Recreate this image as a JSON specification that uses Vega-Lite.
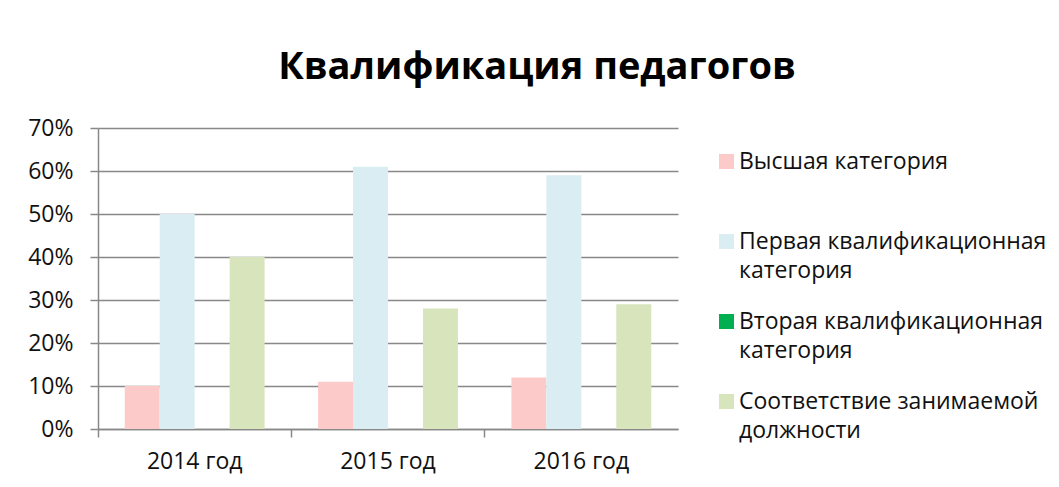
{
  "$schema": "https://vega.github.io/schema/vega-lite/v6.json",
  "width": 580,
  "height": 301,
  "autosize": {"type": "none"},
  "padding": {"left": 98, "top": 128, "right": 381, "bottom": 58},
  "background": "white",
  "title": {
    "text": "Квалификация педагогов",
    "font": "Open Sans",
    "fontSize": 38,
    "fontWeight": "bold",
    "color": "#000000",
    "anchor": "middle",
    "dx": 149,
    "offset": 30
  },
  "data": {
    "values": [
      {"year": "2014 год", "cat": "Высшая категория", "value": 0.10},
      {"year": "2014 год", "cat": "Первая квалификационная категория", "value": 0.50},
      {"year": "2014 год", "cat": "Вторая квалификационная категория", "value": 0},
      {"year": "2014 год", "cat": "Соответствие занимаемой должности", "value": 0.40},
      {"year": "2015 год", "cat": "Высшая категория", "value": 0.11},
      {"year": "2015 год", "cat": "Первая квалификационная категория", "value": 0.61},
      {"year": "2015 год", "cat": "Вторая квалификационная категория", "value": 0},
      {"year": "2015 год", "cat": "Соответствие занимаемой должности", "value": 0.28},
      {"year": "2016 год", "cat": "Высшая категория", "value": 0.12},
      {"year": "2016 год", "cat": "Первая квалификационная категория", "value": 0.59},
      {"year": "2016 год", "cat": "Вторая квалификационная категория", "value": 0},
      {"year": "2016 год", "cat": "Соответствие занимаемой должности", "value": 0.29}
    ]
  },
  "mark": {"type": "bar"},
  "encoding": {
    "x": {
      "field": "year",
      "type": "nominal",
      "title": null,
      "scale": {"paddingInner": 0, "paddingOuter": 0},
      "axis": {
        "labelAngle": 0,
        "bandPosition": 0,
        "labelFont": "Open Sans",
        "labelFontSize": 23,
        "labelColor": "#111111",
        "labelPadding": 13,
        "domainColor": "#888888",
        "domainWidth": 1.5,
        "tickColor": "#888888",
        "tickWidth": 1.5,
        "tickSize": 8,
        "grid": false
      }
    },
    "xOffset": {
      "field": "cat",
      "type": "nominal",
      "sort": ["Высшая категория", "Первая квалификационная категория", "Вторая квалификационная категория", "Соответствие занимаемой должности"],
      "scale": {"paddingInner": 0, "paddingOuter": 0.765}
    },
    "y": {
      "field": "value",
      "type": "quantitative",
      "title": null,
      "scale": {"domain": [0, 0.7]},
      "axis": {
        "format": ".0%",
        "values": [0, 0.1, 0.2, 0.3, 0.4, 0.5, 0.6, 0.7],
        "labelFont": "Open Sans",
        "labelFontSize": 23,
        "labelColor": "#111111",
        "labelPadding": 17,
        "domainColor": "#888888",
        "domainWidth": 1.5,
        "tickColor": "#888888",
        "tickWidth": 1.5,
        "tickSize": 8,
        "gridColor": "#888888",
        "gridWidth": 1.5
      }
    },
    "color": {
      "field": "cat",
      "type": "nominal",
      "title": null,
      "sort": ["Высшая категория", "Первая квалификационная категория", "Вторая квалификационная категория", "Соответствие занимаемой должности"],
      "scale": {
        "domain": ["Высшая категория", "Первая квалификационная категория", "Вторая квалификационная категория", "Соответствие занимаемой должности"],
        "range": ["#FDCACA", "#DAEDF3", "#00B050", "#D7E4BC"]
      },
      "legend": {
        "orient": "none",
        "legendX": 617,
        "legendY": 22,
        "symbolType": "square",
        "symbolSize": 225,
        "symbolStrokeWidth": 0,
        "symbolOffset": 0,
        "labelOffset": 1,
        "labelFont": "Open Sans",
        "labelFontSize": 23,
        "labelColor": "#111111",
        "labelLimit": 400,
        "rowPadding": 27,
        "labelExpr": "datum.label == 'Высшая категория' ? [datum.label, ''] : [slice(datum.label, 0, lastindexof(datum.label, ' ')), slice(datum.label, lastindexof(datum.label, ' ') + 1)]"
      }
    }
  },
  "config": {
    "view": {"stroke": null},
    "style": {"guide-label": {"lineHeight": 29}}
  }
}
